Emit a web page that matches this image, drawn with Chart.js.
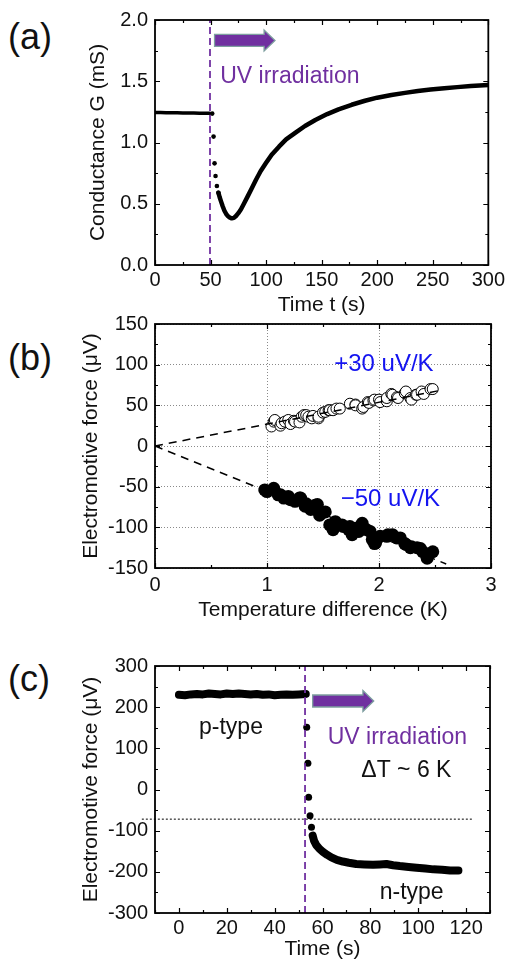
<!DOCTYPE html>
<html>
<head>
<meta charset="utf-8">
<script src="https://cdn.jsdelivr.net/npm/chart.js@4.4.0/dist/chart.umd.min.js"></script>
<style>
  body { margin: 0; background: #fff; width: 508px; height: 962px; position: relative; overflow: hidden;
         font-family: "Liberation Sans", Arial, sans-serif; }
  canvas { position: absolute; left: 0; }
  .lab { position: absolute; left: 8px; font-size: 36px; line-height: 36px; color: #111; }
</style>
</head>
<body>
<div class="lab" style="top:19px">(a)</div>
<div class="lab" style="top:340px">(b)</div>
<div class="lab" style="top:661px">(c)</div>
<canvas id="chartA" width="508" height="320" style="top:0;width:508px;height:320px"></canvas>
<canvas id="chartB" width="508" height="330" style="top:300px;width:508px;height:330px"></canvas>
<canvas id="chartC" width="508" height="332" style="top:630px;width:508px;height:332px"></canvas>
<script>
// ---- (a) conductance vs time ----
const flatT = [0, 5, 10, 15, 20, 25, 30, 35, 40, 45, 49];
const flatG = [1.245, 1.244, 1.243, 1.243, 1.242, 1.241, 1.240, 1.240, 1.239, 1.238, 1.238];
const dropT = [51.5, 52.7, 53.6, 54.5, 55.7, 57.1];
const dropG = [1.236, 1.048, 0.830, 0.727, 0.645, 0.590];
const recT = [57.1, 58.2, 59.5, 61, 62.5, 64, 65.5, 67.2, 69.0, 71, 72.9, 75, 77.4, 80, 83.3, 87, 90.8, 95, 99.7, 105,
              111.6, 118, 126.5, 135, 144.3, 155, 165.2, 177, 189, 200, 212.8, 225, 236.6, 248, 260.4, 272, 284.2, 300];
const recG = [0.590, 0.553, 0.517, 0.478, 0.443, 0.418, 0.400, 0.388, 0.381, 0.385, 0.400, 0.423, 0.455, 0.500, 0.558,
              0.625, 0.694, 0.765, 0.830, 0.900, 0.966, 1.025, 1.080, 1.135, 1.184, 1.232, 1.271, 1.308, 1.341, 1.366,
              1.388, 1.405, 1.420, 1.432, 1.442, 1.452, 1.461, 1.469];
const uvOnA = 49.5;
const ticksAx = [0, 50, 100, 150, 200, 250, 300];
const ticksAy = [0, 0.5, 1.0, 1.5, 2.0];

// ---- (b) EMF vs temperature difference ----
const posDT = [1.04, 1.06, 1.07, 1.12, 1.13, 1.16, 1.19, 1.21, 1.24, 1.25, 1.29, 1.31, 1.33, 1.35, 1.37, 1.40, 1.41,
               1.46, 1.46, 1.50, 1.52, 1.55, 1.56, 1.59, 1.62, 1.65, 1.74, 1.79, 1.79, 1.85, 1.86, 1.90, 1.91, 1.95,
               1.96, 2.00, 2.01, 2.07, 2.07, 2.11, 2.12, 2.16, 2.17, 2.23, 2.24, 2.28, 2.29, 2.33, 2.34, 2.38, 2.40,
               2.46, 2.48];
const posV = [24, 30, 32, 25, 28, 30, 32, 27, 31, 30, 29, 36, 38, 38, 36, 34, 37,
              34, 36, 41, 42, 44, 44, 44, 46, 46, 52, 51, 50, 46, 48, 54, 53, 56,
              57, 57, 54, 55, 59, 64, 63, 60, 59, 65, 67, 59, 57, 63, 63, 67, 64,
              70, 70];
const negDT = [0.98, 1.00, 1.06, 1.10, 1.12, 1.15, 1.19, 1.21, 1.25, 1.29, 1.30, 1.34, 1.35, 1.39, 1.43, 1.45, 1.47,
               1.52, 1.56, 1.59, 1.61, 1.64, 1.67, 1.68, 1.73, 1.74, 1.76, 1.79, 1.82, 1.85, 1.89, 1.92, 1.94, 1.96,
               1.97, 2.01, 2.07, 2.08, 2.12, 2.16, 2.19, 2.23, 2.24, 2.28, 2.29, 2.34, 2.37, 2.39, 2.43, 2.48];
const negV = [-54, -56, -52, -60, -60, -64, -62, -66, -68, -64, -64, -74, -71, -78, -73, -72, -85,
              -81, -97, -103, -93, -97, -97, -99, -103, -99, -109, -101, -105, -95, -103, -105, -115, -120,
              -119, -111, -111, -109, -109, -113, -113, -120, -121, -125, -124, -125, -126, -130, -138, -130];
const fitPosDT = [0, 2.57];
const fitPosV = [0, 69];
const fitNegDT = [0, 2.6];
const fitNegV = [0, -145];
const ticksBx = [0, 1, 2, 3];
const ticksBy = [-150, -100, -50, 0, 50, 100, 150];

// ---- (c) EMF vs time ----
const pT = [0, 2.5, 5, 7.5, 10, 12.5, 15, 17.5, 20, 22.5, 25, 27.5, 30, 32.5, 35, 37.5, 40, 42.5, 45, 47.5, 50, 53];
const pV = [230, 229, 231, 232, 231, 233, 232, 231, 233, 232, 233, 232, 231, 232, 230, 231, 229, 230, 231, 230, 231, 232];
const dotsT = [53.4, 53.9, 54.2, 54.8, 55.4];
const dotsV = [151, 64, -19, -64, -92];
const nT = [55.9, 56.5, 57.4, 58.7, 60.1, 62, 63.7, 66, 68.5, 71, 74.1, 77.5, 81.1, 84, 86.7, 89.5, 92.3, 96,
            99.3, 103, 106.3, 110, 113.3, 116.8];
const nV = [-112, -125, -135, -144, -151, -159, -165, -171, -175, -178, -181, -182, -183, -182, -181, -184, -186,
            -188, -190, -192, -194, -195, -197, -197];
const uvOnC = 52.7;
const refLevelC = -72;
const refSpanC = [-15.5, 122.5];
const ticksCx = [0, 20, 40, 60, 80, 100, 120];
const ticksCy = [-300, -200, -100, 0, 100, 200, 300];

const purple = '#7030a0';
const blue = '#1414f0';
const ink = '#111';

Chart.defaults.font.family = '"Liberation Sans", Arial, sans-serif';
Chart.defaults.color = ink;

const pts = (xs, ys) => xs.map((x, i) => ({x: x, y: ys[i]}));

// frame on all four sides, inward ticks, text notes and arrows
const framePlugin = {
  id: 'frame',
  afterDatasetsDraw(chart, args, opts) {
    const {ctx, chartArea: a, scales: {x, y}} = chart;
    ctx.save();
    ctx.strokeStyle = '#000';
    ctx.lineWidth = 1.2;
    const isMajor = (scale, v) => scale.ticks.some(t => Math.abs(t.value - v) < 1e-6);
    for (let v = Math.ceil(x.min / opts.minorX) * opts.minorX; v <= x.max + 1e-9; v += opts.minorX) {
      const len = isMajor(x, v) ? 5 : 3;
      const px = Math.round(x.getPixelForValue(v)) + 0.5;
      ctx.beginPath();
      ctx.moveTo(px, a.bottom); ctx.lineTo(px, a.bottom - len);
      ctx.moveTo(px, a.top); ctx.lineTo(px, a.top + len);
      ctx.stroke();
    }
    for (let v = Math.ceil(y.min / opts.minorY) * opts.minorY; v <= y.max + 1e-9; v += opts.minorY) {
      const len = isMajor(y, v) ? 5 : 3;
      const py = Math.round(y.getPixelForValue(v)) + 0.5;
      ctx.beginPath();
      ctx.moveTo(a.left, py); ctx.lineTo(a.left + len, py);
      ctx.moveTo(a.right, py); ctx.lineTo(a.right - len, py);
      ctx.stroke();
    }
    ctx.lineWidth = 1.8;
    ctx.strokeRect(a.left, a.top, a.right - a.left, a.bottom - a.top);

    (opts.arrows || []).forEach(ar => {
      const x0 = x.getPixelForValue(ar.x0), xh = x.getPixelForValue(ar.xh), x1 = x.getPixelForValue(ar.x1);
      const yc = y.getPixelForValue(ar.y);
      ctx.beginPath();
      ctx.moveTo(x0, yc - 6); ctx.lineTo(xh, yc - 6); ctx.lineTo(xh, yc - 10.5);
      ctx.lineTo(x1, yc); ctx.lineTo(xh, yc + 10.5); ctx.lineTo(xh, yc + 6); ctx.lineTo(x0, yc + 6);
      ctx.closePath();
      ctx.fillStyle = purple;
      ctx.fill();
      ctx.lineWidth = 1.3;
      ctx.strokeStyle = '#7d9f9f';
      ctx.stroke();
    });
    (opts.notes || []).forEach(n => {
      ctx.font = (n.size || 23) + 'px "Liberation Sans", Arial, sans-serif';
      ctx.fillStyle = n.color || ink;
      ctx.textAlign = 'left';
      ctx.textBaseline = 'alphabetic';
      ctx.fillText(n.text, x.getPixelForValue(n.x), y.getPixelForValue(n.y));
    });
    ctx.restore();
  }
};

function scaleOpts(min, max, tickList, title, fmt, tickPad, titlePad, fitSize, horizontal, grid) {
  return {
    type: 'linear', min: min, max: max,
    afterBuildTicks: s => { s.ticks = tickList.map(v => ({value: v})); },
    afterFit: s => { if (horizontal) s.height = fitSize; else s.width = fitSize; },
    ticks: { font: {size: 20}, color: ink, padding: tickPad, maxRotation: 0, autoSkip: false,
             callback: fmt || (v => String(v)) },
    grid: grid ? { display: true, drawTicks: false, color: '#8a8a8a', lineWidth: 1 }
               : { display: false, drawTicks: false },
    border: grid ? { display: false, dash: [1, 2] } : { display: false },
    title: { display: true, text: title, color: ink, font: {size: 21}, padding: titlePad }
  };
}

const common = (padding, frame, scales) => ({
  responsive: false, animation: false,
  layout: { padding: padding },
  plugins: { legend: {display: false}, tooltip: {enabled: false}, frame: frame },
  scales: scales
});

// (a)
new Chart(document.getElementById('chartA'), {
  type: 'scatter',
  data: { datasets: [
    { data: [{x: uvOnA, y: 0}, {x: uvOnA, y: 2}], showLine: true, borderColor: purple, borderWidth: 1.8,
      borderDash: [7, 4], pointRadius: 0 },
    { data: pts(flatT, flatG), showLine: true, borderColor: '#000', borderWidth: 3.5, pointRadius: 0,
      borderCapStyle: 'round' },
    { data: pts(dropT, dropG), pointRadius: 2.3, backgroundColor: '#000', borderWidth: 0 },
    { data: pts(recT, recG), showLine: true, borderColor: '#000', borderWidth: 4.5, pointRadius: 0,
      borderCapStyle: 'round', borderJoinStyle: 'round' }
  ]},
  options: common({top: 20, right: 17, left: 0, bottom: 0},
    { minorX: 25, minorY: 0.25,
      arrows: [{x0: 53.6, xh: 98.2, x1: 108, y: 1.833}],
      notes: [{text: 'UV irradiation', x: 58.7, y: 1.483, color: purple}] },
    { x: scaleOpts(0, 300, ticksAx, 'Time t (s)', null, 3, {top: 0, bottom: 2}, 55, true, false),
      y: scaleOpts(0, 2, ticksAy, 'Conductance G (mS)', v => v.toFixed(1), 7, {top: 86, bottom: 0}, 155, false, false) }),
  plugins: [framePlugin]
});

// (b)
new Chart(document.getElementById('chartB'), {
  type: 'scatter',
  data: { datasets: [
    { data: pts(fitPosDT, fitPosV), showLine: true, borderColor: '#000', borderWidth: 1.5, borderDash: [8, 6], pointRadius: 0 },
    { data: pts(fitNegDT, fitNegV), showLine: true, borderColor: '#000', borderWidth: 1.5, borderDash: [8, 6], pointRadius: 0 },
    { data: pts(posDT, posV), pointRadius: 5.5, backgroundColor: '#fff', borderColor: '#000', borderWidth: 1 },
    { data: pts(negDT, negV), pointRadius: 6.5, backgroundColor: '#000', borderColor: '#000', borderWidth: 0 }
  ]},
  options: common({top: 24, right: 17, left: 0, bottom: 0},
    { minorX: 0.5, minorY: 25,
      notes: [{text: '+30 uV/K', x: 1.60, y: 92.6, color: blue, size: 24},
              {text: '\u221250 uV/K', x: 1.658, y: -73.8, color: blue, size: 24}] },
    { x: scaleOpts(0, 3, ticksBx, 'Temperature difference (K)', null, 5, {top: 0, bottom: 7}, 62, true, true),
      y: scaleOpts(-150, 150, ticksBy, 'Electromotive force (\u03bcV)', null, 7, {top: 79, bottom: 0}, 155, false, true) }),
  plugins: [framePlugin]
});

// (c)
new Chart(document.getElementById('chartC'), {
  type: 'scatter',
  data: { datasets: [
    { data: [{x: refSpanC[0], y: refLevelC}, {x: refSpanC[1], y: refLevelC}], showLine: true, borderColor: '#000',
      borderWidth: 1, borderDash: [2, 2], pointRadius: 0, clip: false },
    { data: [{x: uvOnC, y: -300}, {x: uvOnC, y: 300}], showLine: true, borderColor: purple, borderWidth: 1.8,
      borderDash: [7, 4], pointRadius: 0 },
    { data: pts(dotsT, dotsV), pointRadius: 3.5, backgroundColor: '#000', borderWidth: 0 },
    { data: pts(pT, pV), showLine: true, borderColor: '#000', borderWidth: 8, pointRadius: 0,
      borderCapStyle: 'round', borderJoinStyle: 'round' },
    { data: pts(nT, nV), showLine: true, borderColor: '#000', borderWidth: 8, pointRadius: 0,
      borderCapStyle: 'round', borderJoinStyle: 'round' }
  ]},
  options: common({top: 36, right: 18, left: 0, bottom: 0},
    { minorX: 10, minorY: 50,
      arrows: [{x0: 55.9, xh: 76.9, x1: 81.4, y: 215}],
      notes: [{text: 'UV irradiation', x: 62.2, y: 110.5, color: purple},
              {text: '\u0394T ~ 6 K', x: 76.2, y: 29.6},
              {text: 'p-type', x: 8.4, y: 134.8},
              {text: 'n-type', x: 83.9, y: -266.7}] },
    { x: scaleOpts(-10, 130, ticksCx, 'Time (s)', null, 3, {top: 0, bottom: 0}, 49, true, false),
      y: scaleOpts(-300, 300, ticksCy, 'Electromotive force (\u03bcV)', null, 7, {top: 79, bottom: 0}, 155, false, false) }),
  plugins: [framePlugin]
});
</script>
</body>
</html>
